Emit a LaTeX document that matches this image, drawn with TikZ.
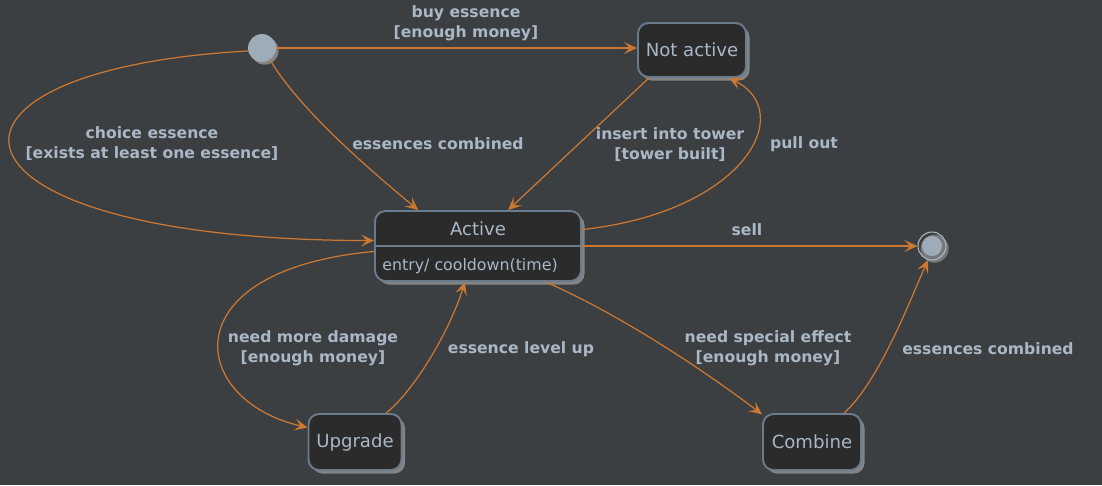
\documentclass[tikz,border=0pt]{standalone}
\usepackage{fontspec}
\setmainfont{DejaVu Sans}
\usetikzlibrary{arrows.meta, positioning, shadows}
\definecolor{DarkBg}{HTML}{3C3F41}
\definecolor{StateFill}{HTML}{2B2B2B}
\definecolor{StateLine}{HTML}{6A7B8D}
\definecolor{SoftText}{HTML}{A9B7C6}
\definecolor{ArrowOrange}{HTML}{CC7832}
\definecolor{DotFill}{HTML}{9EABB8}

\begin{document}
\begin{tikzpicture}[
        x=0.02cm, y=-0.02cm,
        % Estilo para estados
        statebox/.style={
                rectangle,
                rounded corners=6pt,
                draw=StateLine,
                line width=1.1pt,
                fill=StateFill,
                text=SoftText,
                font=\fontsize{10.3}{12}\selectfont,
                minimum height=1.12cm,
                drop shadow={shadow xshift=2pt, shadow yshift=-2pt, fill=white!70!black, opacity=0.6}
            },
        % Estado inicial y final
        startdot/.style={
                circle,
                minimum size=0.56cm,
                inner sep=0pt,
                fill=DotFill,
                drop shadow={shadow xshift=1.5pt, shadow yshift=-1.5pt, fill=white!70!black, opacity=0.6}
            },
        endring/.style={
                circle,
                minimum size=0.56cm,
                inner sep=0pt,
                draw=SoftText,
                line width=0.6pt,
                drop shadow={shadow xshift=1.5pt, shadow yshift=-1.5pt, fill=white!70!black, opacity=0.5}
            },
        enddot/.style={
                circle,
                minimum size=0.4cm,
                inner sep=0pt,
                fill=DotFill
            },
        % Transiciones
        transition/.style={
                draw=ArrowOrange,
                line width=0.7pt,
                -{Stealth[length=7.4pt, width=6.8pt, inset=3.2pt]}
            },
        edgelabel/.style={
                font=\bfseries\fontsize{8.9}{11.4}\selectfont,
                text=SoftText,
                align=center
            }
    ]

    % FONDO
    \useasboundingbox (0,0) rectangle (1102,485);
    \fill[DarkBg] (0,0) rectangle (1102,485);

    % ESTADOS
    \node[startdot] (start) at (262,48) {};
    \node[statebox, minimum width=2.16cm, minimum height=1.08cm] (na) at (692,50) {Not active};
    \node[statebox, minimum width=4.12cm, minimum height=1.4cm] (active) at (478,246) {};
    \draw[StateLine, line width=1.1pt] (active.west) -- (active.east);
    \node[text=SoftText, font=\fontsize{10.3}{12}\selectfont] (activename) at (478,229) {Active};
    \node[text=SoftText, font=\fontsize{9}{11}\selectfont, anchor=west, inner sep=0pt] (activeentry) at (382,266) {entry/ cooldown(time)};
    \node[statebox, minimum width=1.86cm] (upgrade) at (355,442) {Upgrade};
    \node[statebox, minimum width=1.96cm] (combine) at (812,442) {Combine};
    \node[endring] (end) at (932,246) {};
    \node[enddot] (enddot) at (end) {};

    % TRANSICIONES
    \draw[transition] (start.east) -- (start.east -| na.west);
    \draw[transition] (start.304) .. controls (300,110) and (370,170) .. (active.149);
    \draw[transition] (start.192) .. controls (-100,70) and (-75,240) .. (active.177);
    \draw[transition] (na.213) -- (active.50);
    \draw[transition] (active.9) .. controls (745,212) and (797,112) .. (na.323);
    \draw[transition] (active.east) -- (end.west);
    \draw[transition] (active.183) .. controls (170,270) and (188,400) .. (upgrade.163);
    \draw[transition] (upgrade.43) .. controls (415,390) and (450,330) .. (active.250);
    \draw[transition] (active.332) .. controls (610,310) and (690,360) .. (combine.151);
    \draw[transition] (combine.42) .. controls (880,380) and (910,300) .. (end.254);

    % ETIQUETAS
    \node[edgelabel] (lblbuy) at (466,23) {buy essence\\{[enough money]}};
    \node[edgelabel] (lblchoice) at (152,144) {choice essence\\{[exists at least one essence]}};
    \node[edgelabel] (lblcombined) at (438,144) {essences combined};
    \node[edgelabel] (lblinsert) at (670,145) {insert into tower\\{[tower built]}};
    \node[edgelabel] (lblpull) at (804,144) {pull out};
    \node[edgelabel] (lblsell) at (747,230) {sell};
    \node[edgelabel] (lbldamage) at (313,348) {need more damage\\{[enough money]}};
    \node[edgelabel] (lbllevel) at (521,349) {essence level up};
    \node[edgelabel] (lblspecial) at (768,348) {need special effect\\{[enough money]}};
    \node[edgelabel] (lblcombend) at (988,349) {essences combined};

\end{tikzpicture}
\end{document}
